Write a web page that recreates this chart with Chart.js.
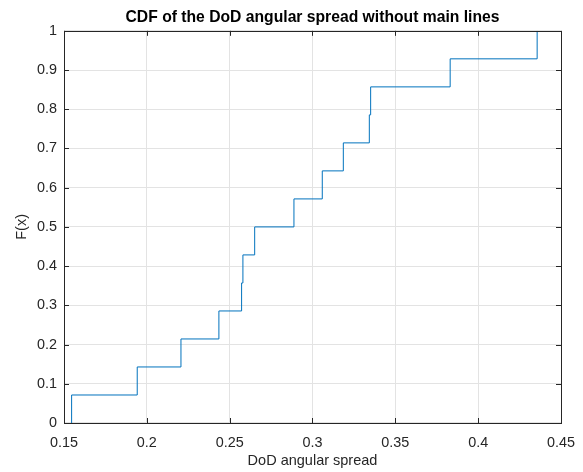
<!DOCTYPE html>
<html>
<head>
<meta charset="utf-8">
<script src="https://cdn.jsdelivr.net/npm/chart.js@4/dist/chart.umd.min.js"></script>
<style>
	html, body { margin: 0; padding: 0; background: #fff; }
	#wrap { width: 583px; height: 472px; }
</style>
</head>
<body>
<div id="wrap"><canvas id="cdfChart" width="583" height="472"></canvas></div>
<script>
// sorted sample values
const spreadValues = [0.1546, 0.1942, 0.2206, 0.2435, 0.2572, 0.2580, 0.2651, 0.2888, 0.3059, 0.3186, 0.3343, 0.3351, 0.3831, 0.4356];
// empirical CDF level reached at each sample
const cdfValues = [0.0714, 0.1429, 0.2143, 0.2857, 0.3571, 0.4286, 0.5, 0.5714, 0.6429, 0.7143, 0.7857, 0.8571, 0.9286, 1];
const xTicks = [0.15, 0.2, 0.25, 0.3, 0.35, 0.4, 0.45];
const yTicks = [0, 0.1, 0.2, 0.3, 0.4, 0.5, 0.6, 0.7, 0.8, 0.9, 1];

const FONT = '"Liberation Sans", Arial, Helvetica, sans-serif';
const AXIS_COLOR = '#262626';

document.addEventListener("DOMContentLoaded", () => {
	initCdfChart();
});

// box around the plot with inward ticks on all four sides
const boxPlugin = {
	id: 'matlabBox',
	afterDraw(chart) {
		const { ctx, chartArea: a, scales } = chart;
		const len = 5;
		ctx.save();
		ctx.strokeStyle = AXIS_COLOR;
		ctx.lineWidth = 1;
		ctx.beginPath();
		xTicks.forEach(v => {
			const px = Math.round(scales.x.getPixelForValue(v)) + 0.5;
			ctx.moveTo(px, a.bottom);
			ctx.lineTo(px, a.bottom - len);
			ctx.moveTo(px, a.top);
			ctx.lineTo(px, a.top + len);
		});
		yTicks.forEach(v => {
			const py = Math.round(scales.y.getPixelForValue(v)) + 0.5;
			ctx.moveTo(a.left, py);
			ctx.lineTo(a.left + len, py);
			ctx.moveTo(a.right, py);
			ctx.lineTo(a.right - len, py);
		});
		ctx.stroke();
		ctx.strokeRect(Math.round(a.left) + 0.5, Math.round(a.top) + 0.5,
			Math.round(a.right - a.left), Math.round(a.bottom - a.top));
		ctx.restore();
	}
};

function initCdfChart() {
	const ctx = document.getElementById("cdfChart");

	if (!ctx) return;

	const points = [{ x: spreadValues[0], y: 0 }];
	spreadValues.forEach((v, i) => points.push({ x: v, y: cdfValues[i] }));

	new Chart(ctx, {
		type: 'scatter',
		data: {
			datasets: [{
				data: points,
				showLine: true,
				stepped: 'before',
				borderColor: '#0072BD',
				borderWidth: 1,
				pointRadius: 0,
				fill: false
			}]
		},
		options: {
			responsive: false,
			animation: false,
			layout: { padding: { left: 0, right: 22, top: 0, bottom: 0 } },
			plugins: {
				legend: { display: false },
				tooltip: { enabled: false },
				title: {
					display: true,
					fullSize: false,
					text: 'CDF of the DoD angular spread without main lines',
					color: '#000',
					font: { family: FONT, size: 15.7, weight: 'bold' },
					padding: { top: 8, bottom: 4 }
				}
			},
			scales: {
				x: {
					type: 'linear',
					min: 0.15,
					max: 0.45,
					afterBuildTicks: scale => { scale.ticks = xTicks.map(v => ({ value: v })); },
					afterFit: scale => {
						scale.height = 49;
						scale.paddingLeft = 0;
						scale.paddingRight = 0;
					},
					border: { display: false },
					grid: { color: '#e3e3e3', drawTicks: false },
					ticks: {
						padding: 11,
						color: AXIS_COLOR,
						font: { family: FONT, size: 14.4 },
						callback: v => String(Math.round(v * 100) / 100)
					},
					title: {
						display: true,
						text: 'DoD angular spread',
						color: AXIS_COLOR,
						font: { family: FONT, size: 14.5 },
						padding: { top: 0, bottom: 2 }
					}
				},
				y: {
					min: 0,
					max: 1,
					afterBuildTicks: scale => { scale.ticks = yTicks.map(v => ({ value: v })); },
					afterFit: scale => {
						scale.width = 64;
						scale.paddingTop = 0;
						scale.paddingBottom = 0;
					},
					border: { display: false },
					grid: { color: '#e3e3e3', drawTicks: false },
					ticks: {
						padding: 7,
						color: AXIS_COLOR,
						font: { family: FONT, size: 14.4 },
						callback: v => String(Math.round(v * 10) / 10)
					},
					title: {
						display: true,
						text: 'F(x)',
						color: AXIS_COLOR,
						font: { family: FONT, size: 14.5 },
						padding: { top: 13, bottom: 0 }
					}
				}
			}
		},
		plugins: [boxPlugin]
	});
}
</script>
</body>
</html>
